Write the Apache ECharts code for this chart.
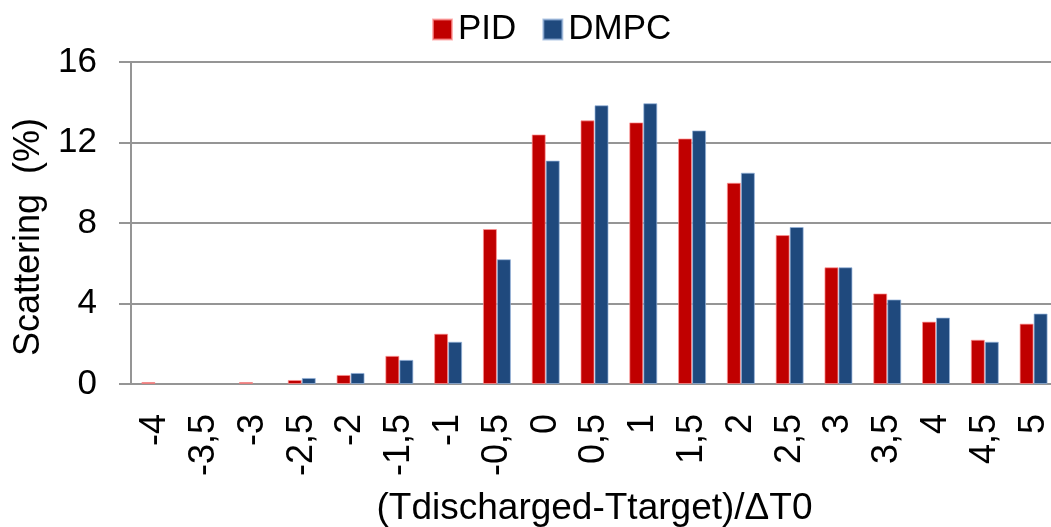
<!DOCTYPE html>
<html>
<head>
<meta charset="utf-8">
<script src="https://cdn.jsdelivr.net/npm/echarts@6/dist/echarts.min.js"></script>
<style>
  html, body { margin: 0; padding: 0; background: #fff; }
  #chart { width: 1051px; height: 527px; }
</style>
</head>
<body>
<div id="chart"></div>
<script>
// Normalised discharge temperature deviation classes
const categories = ['-4', '-3,5', '-3', '-2,5', '-2', '-1,5', '-1', '-0,5', '0', '0,5',
                    '1', '1,5', '2', '2,5', '3', '3,5', '4', '4,5', '5'];
// Share of samples per class (%)
const pidValues  = [0.1, 0, 0.1, 0.2, 0.45, 1.4, 2.5, 7.7, 12.4, 13.1,
                    13.0, 12.2, 10.0, 7.4, 5.8, 4.5, 3.1, 2.2, 3.0];
const dmpcValues = [0, 0, 0, 0.3, 0.55, 1.2, 2.1, 6.2, 11.1, 13.85,
                    13.95, 12.6, 10.5, 7.8, 5.8, 4.2, 3.3, 2.1, 3.5];
const yTicks = { min: 0, max: 16, interval: 4 };

const FONT = "'Liberation Sans', Arial, sans-serif";
const GRID_GREY = '#959595';

// empty classes get no bar at all (avoids a hairline border at zero)
const asBars = values => values.map(v => (v === 0 ? '-' : v));

const chart = echarts.init(document.getElementById('chart'), null, { renderer: 'canvas' });

chart.setOption({
  animation: false,
  backgroundColor: '#ffffff',
  textStyle: { fontFamily: FONT, color: '#000' },
  legend: {
    top: 7,
    left: 427,
    itemWidth: 19,
    itemHeight: 20,
    itemGap: 26,
    icon: 'rect',
    textStyle: { fontSize: 35, fontFamily: FONT, color: '#000', padding: [0, 0, 0, 1] },
    data: ['PID', 'DMPC']
  },
  grid: {
    left: 131, top: 62, width: 927, height: 322,
    containLabel: false,
    outerBoundsMode: 'none'
  },
  xAxis: {
    type: 'category',
    data: categories,
    name: '(Tdischarged-Ttarget)/ΔT0',
    nameLocation: 'middle',
    nameGap: 106,
    nameMoveOverlap: false,
    nameTextStyle: { fontSize: 37, fontFamily: FONT, color: '#000' },
    axisLine: { show: true, lineStyle: { color: GRID_GREY, width: 2 } },
    axisTick: { show: false },
    axisLabel: {
      rotate: 90,
      margin: 30,
      fontSize: 36,
      fontFamily: FONT,
      color: '#000',
      interval: 0
    },
    splitLine: { show: false }
  },
  yAxis: {
    type: 'value',
    min: yTicks.min,
    max: yTicks.max,
    interval: yTicks.interval,
    name: 'Scattering  (%)',
    nameLocation: 'middle',
    nameGap: 84,
    nameMoveOverlap: false,
    nameTextStyle: { fontSize: 36, fontFamily: FONT, color: '#000', padding: [0, 28, 0, 0] },
    axisLine: { show: true, lineStyle: { color: GRID_GREY, width: 2 } },
    axisTick: { show: true, length: 12, inside: false, lineStyle: { color: GRID_GREY, width: 2 } },
    axisLabel: { margin: 34, fontSize: 35, fontFamily: FONT, color: '#000' },
    splitLine: { show: true, lineStyle: { color: GRID_GREY, width: 2 } }
  },
  series: [
    {
      name: 'PID',
      type: 'bar',
      data: asBars(pidValues),
      barWidth: 14,
      barGap: '0%',
      itemStyle: { color: '#C00000', borderColor: 'rgba(255,150,150,0.7)', borderWidth: 1 }
    },
    {
      name: 'DMPC',
      type: 'bar',
      data: asBars(dmpcValues),
      barWidth: 14,
      barGap: '0%',
      itemStyle: { color: '#1F497D', borderColor: 'rgba(150,180,220,0.7)', borderWidth: 1 }
    }
  ]
});
</script>
</body>
</html>
